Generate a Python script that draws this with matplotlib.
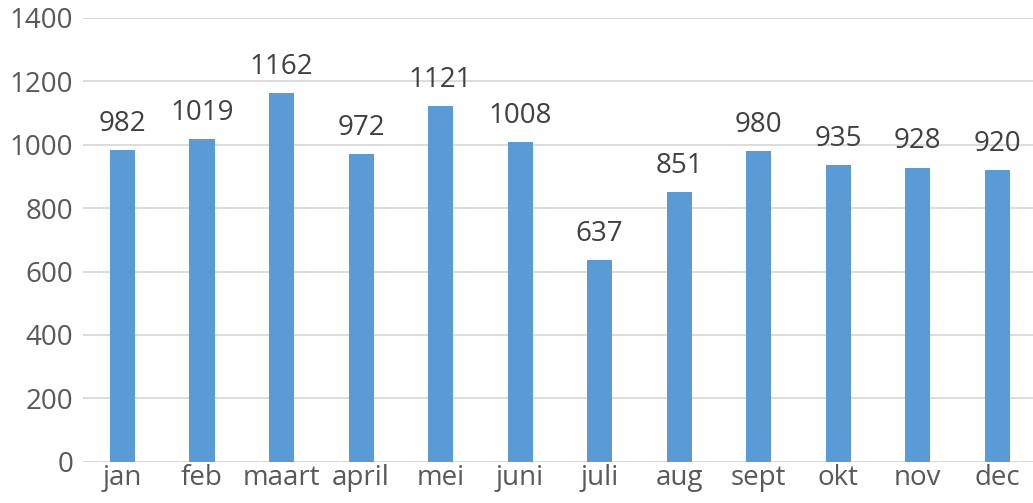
import matplotlib
matplotlib.use("Agg")
import matplotlib.pyplot as plt

months = ["jan", "feb", "maart", "april", "mei", "juni", "juli", "aug", "sept", "okt", "nov", "dec"]
counts = [982, 1019, 1162, 972, 1121, 1008, 637, 851, 980, 935, 928, 920]
yticks = [0, 200, 400, 600, 800, 1000, 1200, 1400]

plt.rcParams['font.family'] = ['Open Sans', 'DejaVu Sans']

fig = plt.figure(figsize=(10.33, 5.03), dpi=100)
ax = fig.add_axes([0.0801, 0.0821, 0.9199, 0.8823])

x = range(len(months))
ax.bar(x, counts, width=0.315, color="#5B9BD5", zorder=3)
for i, v in zip(x, counts):
    ax.text(i, v + 38, str(v), ha="center", va="bottom", fontsize=20, color="#404040")

ax.set_xlim(-0.5, 11.45)
ax.set_ylim(0, 1400)
ax.set_yticks(yticks)
ax.set_xticks(list(x))
ax.set_xticklabels(months)
ax.grid(axis="y", color="#D9D9D9", linewidth=1.3, zorder=0)
for s in ax.spines.values():
    s.set_visible(False)
ax.tick_params(axis="both", length=0, labelsize=20, labelcolor="#595959")
ax.tick_params(axis="y", pad=7)
ax.tick_params(axis="x", pad=2)

fig.savefig("out.png", dpi=100)
